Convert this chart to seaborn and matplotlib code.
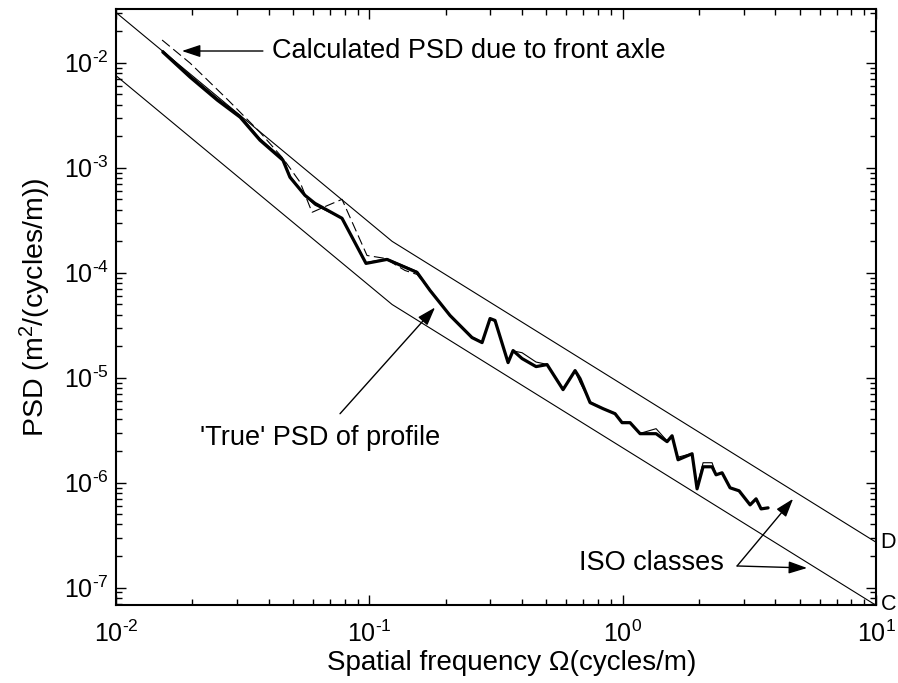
import math
import matplotlib
matplotlib.use("Agg")
import matplotlib.pyplot as plt
from matplotlib.ticker import FuncFormatter
import seaborn as sns

# road profile PSD
freq = [0.0153, 0.0196, 0.0251, 0.0309, 0.0370, 0.0456, 0.0486, 0.0557, 0.0610, 0.0780,
        0.0970, 0.1174, 0.1543, 0.1736, 0.2083, 0.2543, 0.2786, 0.2996, 0.3134, 0.3529,
        0.3693, 0.4007, 0.4551, 0.5030, 0.5816, 0.6488, 0.6788, 0.7436, 0.8368, 0.9333,
        0.9945, 1.0696, 1.1715, 1.3550, 1.4973, 1.5668, 1.6545, 1.8793, 1.9665, 2.0767,
        2.2535, 2.3371, 2.4683, 2.6546, 2.8810, 3.1842, 3.3622, 3.5190, 3.7497]
psd_true = [1.265e-2, 7.30e-3, 4.41e-3, 3.03e-3, 1.83e-3, 1.18e-3, 8.12e-4, 5.46e-4, 4.58e-4, 3.30e-4,
            1.227e-4, 1.339e-4, 1.007e-4, 6.78e-5, 3.91e-5, 2.41e-5, 2.16e-5, 3.66e-5, 3.51e-5, 1.393e-5,
            1.814e-5, 1.522e-5, 1.276e-5, 1.334e-5, 7.70e-6, 1.169e-5, 9.80e-6, 5.79e-6, 5.07e-6, 4.54e-6,
            3.73e-6, 3.73e-6, 2.93e-6, 2.93e-6, 2.46e-6, 2.80e-6, 1.654e-6, 1.887e-6, 8.74e-7, 1.418e-6,
            1.418e-6, 1.189e-6, 1.243e-6, 8.94e-7, 8.37e-7, 6.15e-7, 7.02e-7, 5.63e-7, 5.76e-7]
psd_thin = [1.31e-2, 7.6e-3, 4.6e-3, 3.15e-3, 1.9e-3, 1.22e-3, 8.4e-4, 5.4e-4, 4.4e-4, 3.3e-4,
            1.25e-4, 1.36e-4, 1.03e-4, 6.9e-5, 3.95e-5, 2.45e-5, 2.2e-5, 3.6e-5, 3.45e-5, 1.40e-5,
            1.80e-5, 1.73e-5, 1.41e-5, 1.34e-5, 7.9e-6, 1.15e-5, 9.0e-6, 5.9e-6, 5.1e-6, 4.6e-6,
            3.8e-6, 3.75e-6, 2.95e-6, 3.27e-6, 2.5e-6, 2.75e-6, 1.75e-6, 1.90e-6, 9.2e-7, 1.55e-6,
            1.55e-6, 1.2e-6, 1.25e-6, 9.0e-7, 8.4e-7, 6.2e-7, 7.0e-7, 5.7e-7, 5.8e-7]

# calculated PSD due to front axle (dashed)
freq_axle = [0.0152, 0.0196, 0.0277, 0.0370, 0.0456, 0.0533, 0.0594, 0.0687, 0.0780,
             0.0979, 0.1153, 0.1383, 0.1543, 0.1736, 0.2083]
psd_axle = [1.647e-2, 9.93e-3, 4.41e-3, 2.18e-3, 1.23e-3, 7.27e-4, 3.76e-4, 4.39e-4, 5.00e-4,
            1.46e-4, 1.37e-4, 1.05e-4, 9.63e-5, 6.78e-5, 3.91e-5]

# ISO class boundaries
iso_freq = [0.01, 0.123, 10]
iso_d = [3.01e-2, 1.99e-4, 2.71e-7]
iso_c = [7.53e-3, 4.98e-5, 6.8e-8]

sns.set_style("ticks")
plt.rcParams["font.family"] = ["Liberation Sans", "DejaVu Sans"]
plt.rcParams["mathtext.fontset"] = "custom"
plt.rcParams["mathtext.rm"] = "Liberation Sans"
plt.rcParams["mathtext.it"] = "Liberation Sans:italic"
plt.rcParams["mathtext.default"] = "regular"
plt.rcParams["text.color"] = "k"
plt.rcParams["axes.labelcolor"] = "k"

fig = plt.figure(figsize=(8.98, 6.83), dpi=100)
ax = fig.add_axes([0.1292, 0.1142, 0.8463, 0.8726])

sns.lineplot(x=iso_freq, y=iso_d, ax=ax, color="k", lw=0.8)
sns.lineplot(x=iso_freq, y=iso_c, ax=ax, color="k", lw=0.8)
sns.lineplot(x=freq_axle, y=psd_axle, ax=ax, color="k", lw=0.8, linestyle=(0, (9, 4)))
sns.lineplot(x=freq, y=psd_thin, ax=ax, color="k", lw=0.8)
sns.lineplot(x=freq, y=psd_true, ax=ax, color="k", lw=2.3)

ax.set_xscale("log")
ax.set_yscale("log")
ax.set_xlim(0.01, 10)
ax.set_ylim(6.84e-8, 3.25e-2)


def pow_label(v, pos):
    # plain hyphen in the exponent, like the original figure
    e = int(round(math.log10(v)))
    return "$10^{%s}$" % str(e).replace("-", "\u2010")


ax.xaxis.set_major_formatter(FuncFormatter(pow_label))
ax.yaxis.set_major_formatter(FuncFormatter(pow_label))

for s in ax.spines.values():
    s.set_visible(True)
    s.set_linewidth(1.5)
    s.set_color("k")
ax.tick_params(which="both", direction="in", top=True, right=True, colors="k", width=1)
ax.tick_params(which="major", length=7, labelsize=18)
ax.tick_params(axis="x", pad=11)
ax.tick_params(axis="y", pad=5)
ax.tick_params(which="minor", length=4)

ax.set_xlabel("Spatial frequency Ω(cycles/m)", fontsize=20)
ax.xaxis.set_label_coords(0.52, -0.075)
ax.set_ylabel("PSD (m$^2$/(cycles/m))", fontsize=20.5, labelpad=8)

arrow = dict(arrowstyle="-|>,head_length=0.45,head_width=0.15", color="k", lw=1,
             mutation_scale=25, shrinkA=0, shrinkB=0)

ax.annotate("", xy=(0.0182, 0.01294), xytext=(0.0380, 0.01294), arrowprops=arrow)
ax.text(0.0411, 0.01294, "Calculated PSD due to front axle", fontsize=19.5, va="center", ha="left")

ax.annotate("", xy=(0.1817, 4.67e-5), xytext=(0.0766, 4.54e-6), arrowprops=arrow)
ax.text(0.0639, 2.68e-6, "'True' PSD of profile", fontsize=19.5, va="center", ha="center")

ax.annotate("", xy=(4.708, 7.02e-7), xytext=(2.829, 1.61e-7), arrowprops=arrow)
ax.annotate("", xy=(5.346, 1.54e-7), xytext=(2.829, 1.61e-7), arrowprops=arrow)
ax.text(2.513, 1.72e-7, "ISO classes", fontsize=19.5, va="center", ha="right")

ax.text(1.006, 2.72e-7, "D", fontsize=15.5, va="center", ha="left",
        transform=ax.get_yaxis_transform(), clip_on=False)
ax.text(1.006, 6.9e-8, "C", fontsize=15.5, va="center", ha="left",
        transform=ax.get_yaxis_transform(), clip_on=False)

plt.savefig("out.png", dpi=100)
